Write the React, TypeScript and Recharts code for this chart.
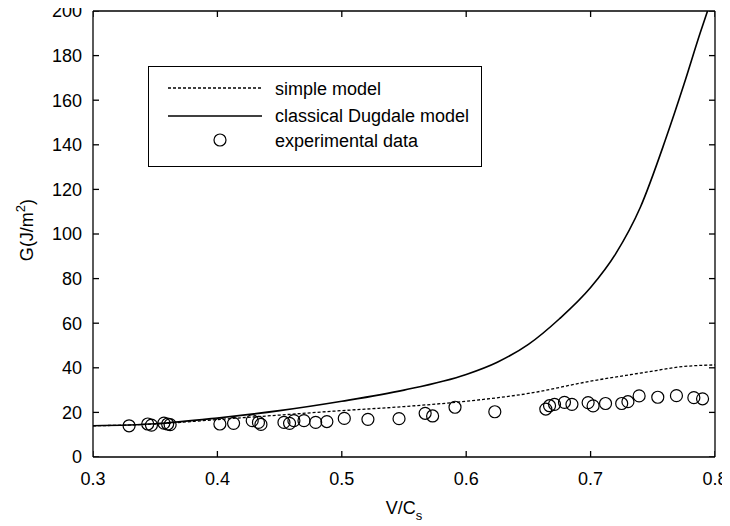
import { ComposedChart, Line, Scatter, XAxis, YAxis, Legend } from 'recharts';

const FONT = '"Liberation Sans", Arial, sans-serif';

const xTicks = [0.3, 0.4, 0.5, 0.6, 0.7, 0.8];
const yTicks = [0, 20, 40, 60, 80, 100, 120, 140, 160, 180, 200];

// simple model (dashed)
const simpleV = [0.3, 0.35, 0.4, 0.45, 0.5, 0.55, 0.6, 0.65, 0.7, 0.75, 0.77, 0.8];
const simpleG = [14.0, 14.8, 16.8, 18.8, 20.8, 22.6, 25.0, 28.5, 34.0, 38.5, 40.3, 41.3];

// classical Dugdale model (solid)
const dugdaleV = [0.3, 0.35, 0.4, 0.45, 0.5, 0.55, 0.6, 0.625, 0.65, 0.675, 0.7, 0.72, 0.74, 0.76, 0.775, 0.788, 0.794];
const dugdaleG = [14.0, 14.9, 17.5, 20.8, 25.0, 30.0, 37.0, 42.5, 50.5, 62, 76, 91, 112, 142, 167, 190, 200];

// experimental data (circles)
const expV = [0.329, 0.344, 0.347, 0.357, 0.36, 0.362, 0.402, 0.413, 0.428, 0.433, 0.435, 0.4535, 0.458, 0.4615, 0.4696, 0.479, 0.488, 0.502, 0.521, 0.546, 0.567, 0.573, 0.591, 0.623, 0.664, 0.667, 0.671, 0.679, 0.685, 0.698, 0.702, 0.712, 0.725, 0.73, 0.739, 0.754, 0.769, 0.783, 0.79];
const expG = [14.0, 14.8, 14.3, 15.2, 14.8, 14.5, 14.8, 15.1, 16.3, 15.5, 14.6, 15.5, 15.1, 16.3, 16.3, 15.5, 15.9, 17.3, 16.9, 17.2, 19.6, 18.4, 22.3, 20.3, 21.5, 23.0, 23.6, 24.5, 23.6, 24.4, 22.9, 24.0, 24.0, 24.8, 27.4, 26.8, 27.5, 26.6, 26.1];

const legendNames = ['simple model', 'classical Dugdale model', 'experimental data'];

const simpleData = simpleV.map((x, i) => ({ x, g: simpleG[i] }));
const dugdaleData = dugdaleV.map((x, i) => ({ x, g: dugdaleG[i] }));
const expData = expV.map((x, i) => ({ x, g: expG[i] }));

// tick mark anchors on the four edges of the frame (dx/dy = inward direction)
const xMin = xTicks[0];
const xMax = xTicks[xTicks.length - 1];
const yMin = yTicks[0];
const yMax = yTicks[yTicks.length - 1];
const tickMarkData = [
  ...xTicks.map((t) => ({ x: t, g: yMin, dx: 0, dy: -1 })),
  ...xTicks.map((t) => ({ x: t, g: yMax, dx: 0, dy: 1 })),
  ...yTicks.map((t) => ({ x: xMin, g: t, dx: 1, dy: 0 })),
  ...yTicks.map((t) => ({ x: xMax, g: t, dx: -1, dy: 0 })),
];

const TICK_LEN = 6;
const tickStyle = { fontSize: 18, fill: '#000', fontFamily: FONT };
const axisLine = { stroke: '#000', strokeWidth: 1.3 };

const TickMark = (p: any) => {
  const d = p.payload ?? p;
  return (
    <line
      x1={p.cx}
      y1={p.cy}
      x2={p.cx + d.dx * TICK_LEN}
      y2={p.cy + d.dy * TICK_LEN}
      stroke="#000"
      strokeWidth={1.3}
    />
  );
};

const YLabel = ({ viewBox }: any) => {
  const cx = viewBox.x + 10;
  const cy = viewBox.y + viewBox.height / 2 - 4;
  return (
    <text x={cx} y={cy} transform={`rotate(-90, ${cx}, ${cy})`} textAnchor="middle" fontSize={18} fontFamily={FONT} fill="#000">
      G(J/m<tspan dy={-8} fontSize={13}>2</tspan><tspan dy={8}>)</tspan>
    </text>
  );
};

const XLabel = ({ viewBox }: any) => {
  const cx = viewBox.x + viewBox.width / 2;
  const y = viewBox.y + 57;
  return (
    <text x={cx} y={y} textAnchor="middle" fontSize={18} fontFamily={FONT} fill="#000">
      V/C<tspan dy={6} fontSize={13}>s</tspan>
    </text>
  );
};

const renderLegend = () => (
  <div style={{ width: 334, height: 101, border: '1.5px solid #000', boxSizing: 'border-box', background: '#fff' }}>
    <svg width={332} height={98}>
      <line x1={19} x2={113} y1={21} y2={21} stroke="#000" strokeWidth={1.3} strokeDasharray="3 2" />
      <line x1={19} x2={113} y1={49} y2={49} stroke="#000" strokeWidth={1.6} />
      <circle cx={71} cy={73} r={6} fill="none" stroke="#000" strokeWidth={1.2} />
      {legendNames.map((n, i) => (
        <text key={n} x={126} y={[28, 55, 80][i]} fontSize={18} fontFamily={FONT} fill="#000">{n}</text>
      ))}
    </svg>
  </div>
);

const Ring = (p: any) => <circle cx={p.cx} cy={p.cy} r={6} fill="none" stroke="#000" strokeWidth={1.2} />;

export default function App() {
  return (
    <div style={{ margin: '-8px 0 0 -8px', width: 730, height: 526 }}>
      <ComposedChart width={730} height={526} margin={{ top: 10, right: 14, bottom: 9, left: 23 }}>
        <XAxis
          dataKey="x"
          type="number"
          domain={[0.3, 0.8]}
          ticks={xTicks}
          interval={0}
          allowDataOverflow
          tickFormatter={(v: number) => v.toFixed(1)}
          tick={tickStyle}
          tickLine={false}
          tickSize={0}
          tickMargin={15}
          height={60}
          axisLine={axisLine}
          label={<XLabel />}
        />
        <XAxis
          xAxisId="top"
          orientation="top"
          dataKey="x"
          type="number"
          domain={[0.3, 0.8]}
          allowDataOverflow
          tick={false}
          tickLine={false}
          height={1}
          axisLine={axisLine}
        />
        <YAxis
          type="number"
          domain={[0, 200]}
          ticks={yTicks}
          interval={0}
          allowDataOverflow
          tick={tickStyle}
          tickLine={false}
          tickSize={0}
          tickMargin={11}
          width={70}
          axisLine={axisLine}
          label={<YLabel />}
        />
        <YAxis
          yAxisId="right"
          orientation="right"
          type="number"
          domain={[0, 200]}
          allowDataOverflow
          tick={false}
          tickLine={false}
          width={1}
          axisLine={axisLine}
        />
        <Legend
          layout="horizontal"
          verticalAlign="middle"
          align="center"
          content={renderLegend}
          wrapperStyle={{ left: 148, top: 66, width: 334, height: 101 }}
        />
        <Scatter
          data={tickMarkData}
          dataKey="g"
          legendType="none"
          shape={TickMark}
          isAnimationActive={false}
        />
        <Line
          data={simpleData}
          dataKey="g"
          name={legendNames[0]}
          type="monotone"
          stroke="#000"
          strokeWidth={1.3}
          strokeDasharray="3 2"
          dot={false}
          isAnimationActive={false}
        />
        <Line
          data={dugdaleData}
          dataKey="g"
          name={legendNames[1]}
          type="monotone"
          stroke="#000"
          strokeWidth={1.6}
          dot={false}
          isAnimationActive={false}
        />
        <Scatter
          data={expData}
          dataKey="g"
          name={legendNames[2]}
          shape={Ring}
          isAnimationActive={false}
        />
      </ComposedChart>
    </div>
  );
}
